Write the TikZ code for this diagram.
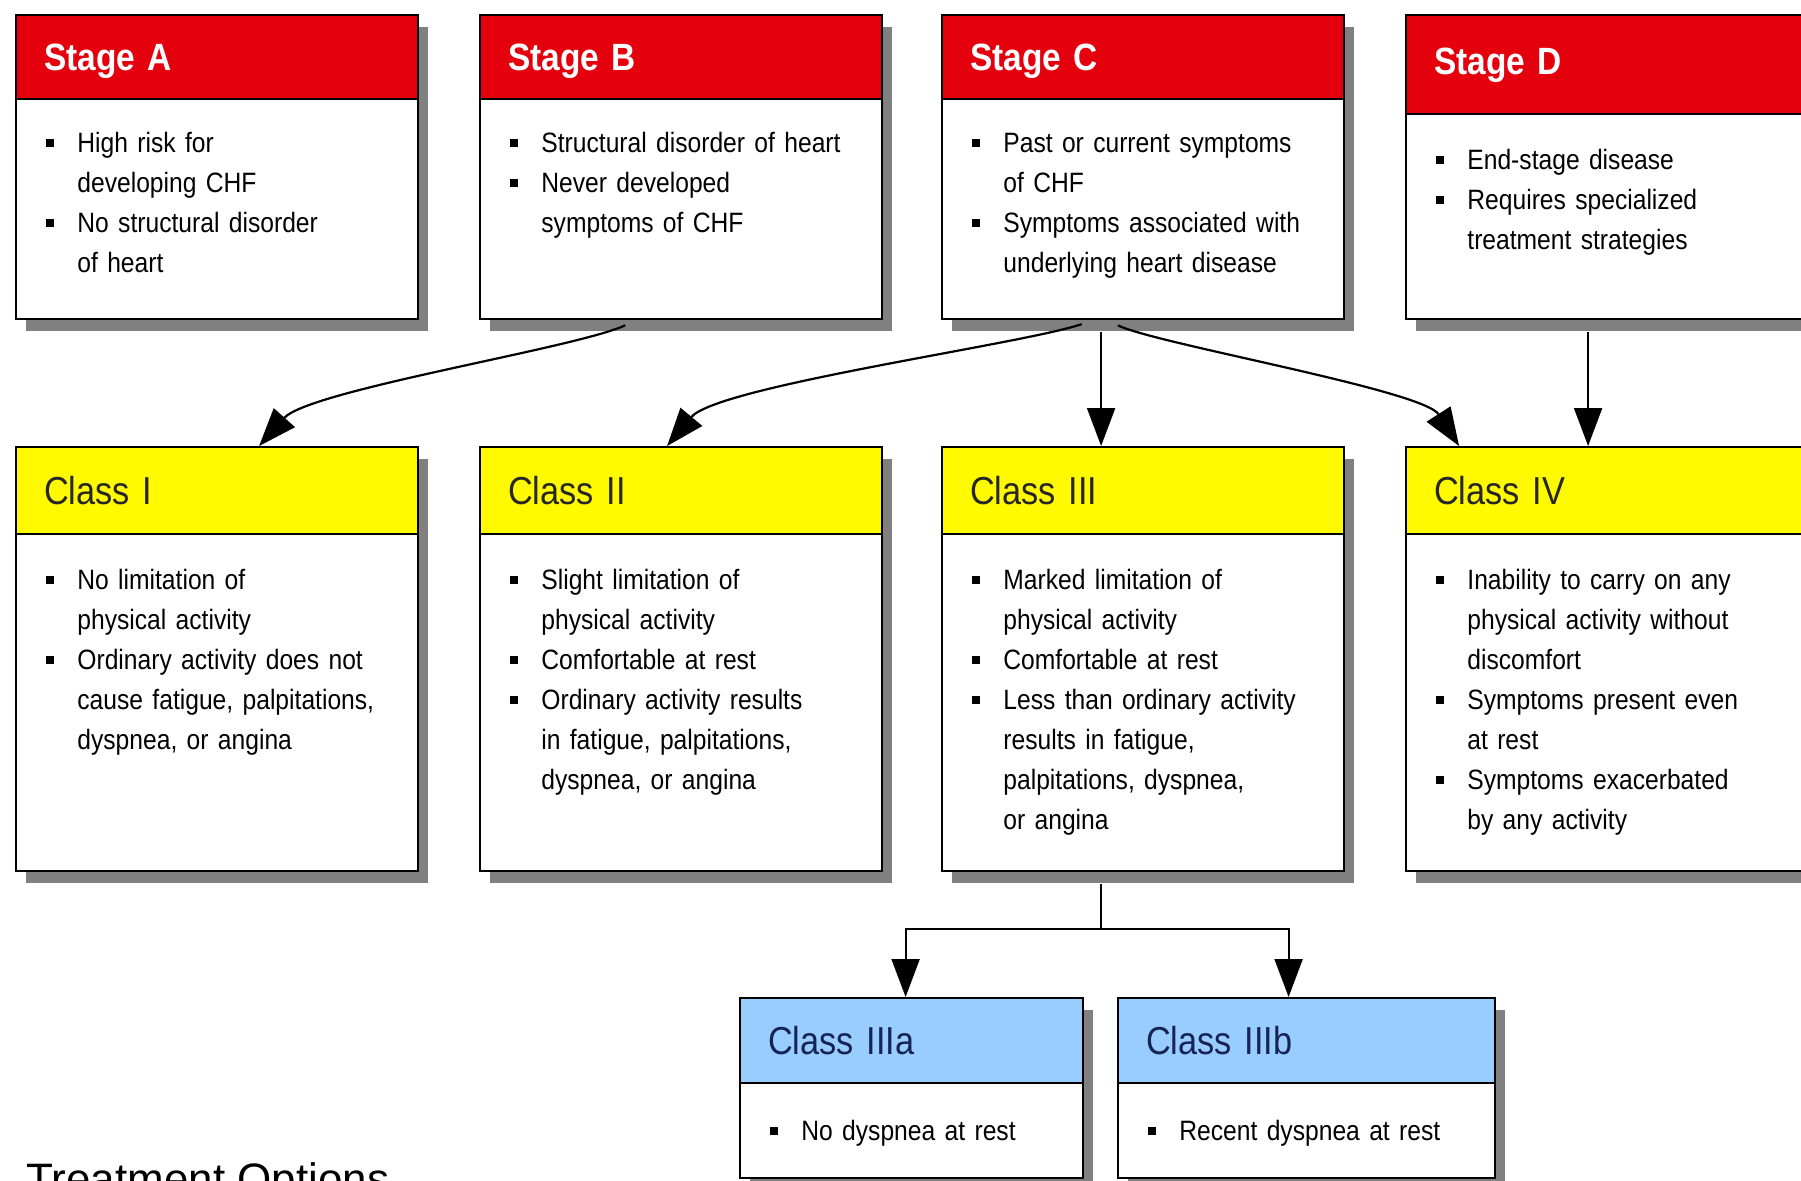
\documentclass[tikz,border=0pt]{standalone}
\usepackage{fontspec}
\setmainfont{Liberation Sans}[FakeStretch=0.88]
\newfontfamily\plainsans{Liberation Sans}
\usetikzlibrary{arrows.meta,shadows}
\definecolor{stagered}{RGB}{228,0,12}
\definecolor{classyellow}{RGB}{255,250,0}
\definecolor{subblue}{RGB}{153,204,255}
\definecolor{subnavy}{RGB}{22,36,84}
\newcommand{\bul}[1]{\noindent\hangindent=15.5pt\hangafter=1\makebox[15.5pt][l]{\rule[2.5pt]{4pt}{4pt}}#1\par}

\begin{document}
\begin{tikzpicture}[x=1pt, y=-1pt,
	box/.style={draw, line width=1.1pt, fill=white, anchor=north west, inner sep=0pt, minimum width=201pt,
		drop shadow={shadow xshift=5pt, shadow yshift=-6pt, fill=black!50, opacity=1}},
	stagebox/.style={box, minimum height=152pt},
	classbox/.style={box, minimum height=212pt},
	subbox/.style={box, minimum height=90pt},
	head/.style={draw, line width=1.1pt, anchor=north west, align=left, inner xsep=14pt, inner ysep=0pt, text width=173pt, text depth=0pt},
	stagehead/.style={head, fill=stagered, text=white, minimum height=42pt, text height=13.6pt, font=\bfseries\fontsize{19}{22}\selectfont},
	classhead/.style={head, fill=classyellow, text=black!85, minimum height=43.5pt, text height=14pt, font=\fontsize{19.5}{22}\selectfont},
	subhead/.style={head, fill=subblue, text=subnavy, minimum height=42.5pt, text height=14pt, font=\fontsize{19.5}{22}\selectfont},
	bodytext/.style={anchor=base west, align=left, inner sep=0pt, text width=182pt, font=\fontsize{14}{20}\selectfont},
	arr/.style={line width=1.1pt, -{Triangle[length=19pt,width=14pt]}}]
\useasboundingbox (0,0) rectangle (900.5,590);

\node[stagebox] (stA) at (7.5,7) {};
\node[stagehead] (stAh) at (stA.north west) {Stage A};
\node[bodytext] at ([shift={(15.5,26)}]stAh.south west) {\bul{High risk for\newline developing CHF}\bul{No structural disorder\newline of heart}};

\node[stagebox] (stB) at (239.5,7) {};
\node[stagehead] (stBh) at (stB.north west) {Stage B};
\node[bodytext] at ([shift={(15.5,26)}]stBh.south west) {\bul{Structural disorder of heart}\bul{Never developed\newline symptoms of CHF}};

\node[stagebox] (stC) at (470.5,7) {};
\node[stagehead] (stCh) at (stC.north west) {Stage C};
\node[bodytext] at ([shift={(15.5,26)}]stCh.south west) {\bul{Past or current symptoms\newline of CHF}\bul{Symptoms associated with\newline underlying heart disease}};

\node[stagebox] (stD) at (702.5,7) {};
\node[stagehead, minimum height=49.5pt, text depth=4pt] (stDh) at (stD.north west) {Stage D};
\node[bodytext] at ([shift={(15.5,27)}]stDh.south west) {\bul{End-stage disease}\bul{Requires specialized\newline treatment strategies}};

\node[classbox] (clI) at (7.5,223) {};
\node[classhead] (clIh) at (clI.north west) {Class I};
\node[bodytext] at ([shift={(15.5,27)}]clIh.south west) {\bul{No limitation of\newline physical activity}\bul{Ordinary activity does not\newline cause fatigue, palpitations,\newline dyspnea, or angina}};

\node[classbox] (clII) at (239.5,223) {};
\node[classhead] (clIIh) at (clII.north west) {Class II};
\node[bodytext] at ([shift={(15.5,27)}]clIIh.south west) {\bul{Slight limitation of\newline physical activity}\bul{Comfortable at rest}\bul{Ordinary activity results\newline in fatigue, palpitations,\newline dyspnea, or angina}};

\node[classbox] (clIII) at (470.5,223) {};
\node[classhead] (clIIIh) at (clIII.north west) {Class III};
\node[bodytext] at ([shift={(15.5,27)}]clIIIh.south west) {\bul{Marked limitation of\newline physical activity}\bul{Comfortable at rest}\bul{Less than ordinary activity\newline results in fatigue,\newline palpitations, dyspnea,\newline or angina}};

\node[classbox] (clIV) at (702.5,223) {};
\node[classhead] (clIVh) at (clIV.north west) {Class IV};
\node[bodytext] at ([shift={(15.5,27)}]clIVh.south west) {\bul{Inability to carry on any\newline physical activity without\newline discomfort}\bul{Symptoms present even\newline at rest}\bul{Symptoms exacerbated\newline by any activity}};

\node[subbox, minimum width=171.5pt] (clIIIa) at (369.5,498.5) {};
\node[subhead, text width=143.5pt] (clIIIah) at (clIIIa.north west) {Class IIIa};
\node[bodytext] at ([shift={(15.5,28)}]clIIIah.south west) {\bul{No dyspnea at rest}};

\node[subbox, minimum width=188.5pt] (clIIIb) at (558.5,498.5) {};
\node[subhead, text width=160.5pt] (clIIIbh) at (clIIIb.north west) {Class IIIb};
\node[bodytext] at ([shift={(15.5,28)}]clIIIbh.south west) {\bul{Recent dyspnea at rest}};

\node[anchor=north west, inner sep=0pt, font=\plainsans\fontsize{22}{26}\selectfont] (treat) at (13,581) {Treatment Options};

\draw[arr, shorten <=6pt] ([xshift=-22.5pt]stB.south) .. controls +(-30,14) and +(25,-28) .. ([xshift=21pt]clI.north);
\draw[arr, shorten <=6pt] ([xshift=-25pt]stC.south) .. controls +(-35,12) and +(25,-30) .. ([xshift=-7pt]clII.north);
\draw[arr, shorten <=6pt] ([xshift=-21pt]stC.south) -- ([xshift=-21pt]clIII.north);
\draw[arr, shorten <=6pt] ([xshift=-18pt]stC.south) .. controls +(25,12) and +(-18,-28) .. ([xshift=-74pt]clIV.north);
\draw[arr, shorten <=6pt] ([xshift=-9.5pt]stD.south) -- ([xshift=-9.5pt]clIV.north);

\draw[line width=1.1pt, shorten <=6pt] ([xshift=-21pt]clIII.south) -- ++(0,28.5) coordinate (split);
\draw[arr] (split) -| ([xshift=-3pt]clIIIa.north);
\draw[arr] (split) -| ([xshift=-9pt]clIIIb.north);
\end{tikzpicture}
\end{document}
